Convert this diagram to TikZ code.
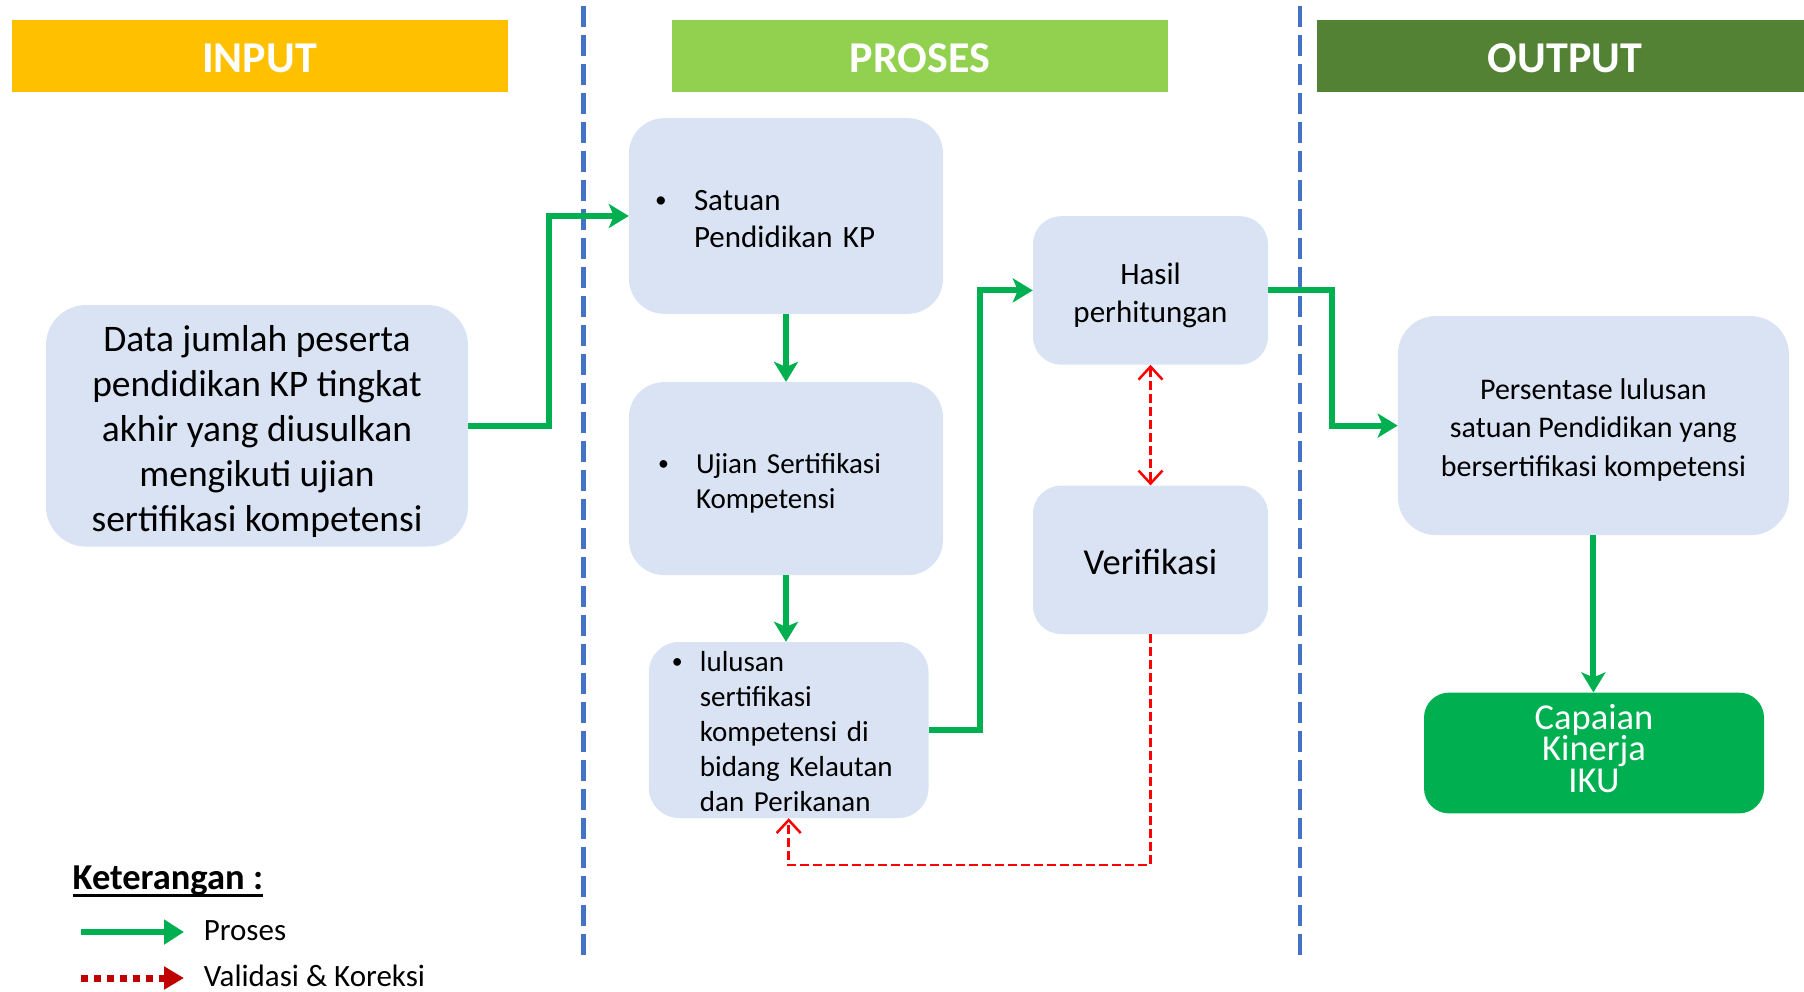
\documentclass[tikz,border=0pt]{standalone}
\usepackage{fontspec}
\setmainfont{Carlito}
\usetikzlibrary{arrows.meta}
\definecolor{inyellow}{HTML}{FFC000}
\definecolor{prgreen}{HTML}{92D050}
\definecolor{outgreen}{HTML}{548235}
\definecolor{boxblue}{HTML}{DAE3F3}
\definecolor{sepblue}{HTML}{4472C4}
\definecolor{arrgreen}{HTML}{00B050}
\definecolor{vred}{HTML}{FF0000}
\definecolor{dred}{HTML}{C00000}
\newcommand\myfs[2]{\fontsize{#1}{#2}\selectfont}
\newcommand\uprule[1]{\rule{0pt}{#1}}
\newcommand\smbul[1]{\makebox[#1][l]{\raisebox{0.12em}{\scalebox{0.75}{•}}}}
\tikzset{
  hdr/.style={text=white, font=\myfs{44}{50}\bfseries, minimum height=72.5pt, minimum width=496pt, inner sep=0pt},
  box/.style={fill=boxblue, inner sep=0pt, text=black},
  sep/.style={draw=sepblue, line width=4.5pt, dash pattern=on 21pt off 8pt},
  garrow/.style={draw=arrgreen, line width=6pt, -{Stealth[length=20pt,width=24pt,inset=5pt]}},
  rarrow/.style={draw=vred, line width=2.5pt, dash pattern=on 9pt off 4pt, -{Straight Barb[length=13pt,width=24pt]}},
  rdarrow/.style={draw=vred, line width=2.5pt, dash pattern=on 9pt off 4pt, {Straight Barb[length=13pt,width=24pt]}-{Straight Barb[length=13pt,width=24pt]}},
}
\begin{document}
\begin{tikzpicture}[x=1pt,y=-1pt]
\useasboundingbox (0,0) rectangle (1804,991);
% headers
\node[hdr, fill=inyellow] (hin) at (259.5,55.8) {\uprule{34pt}INPUT};
\node[hdr, fill=prgreen] (hpr) at (920,55.8) {\uprule{34pt}PROSES};
\node[hdr, fill=outgreen] (hout) at (1565,55.8) {\uprule{34pt}OUTPUT};
% separators
\draw[sep] (583.3,5.8) -- (583.3,955);
\draw[sep] (1300,5.8) -- (1300,955);
% boxes
\node[box, rounded corners=40pt, minimum width=422pt, minimum height=241.5pt, align=center, font=\myfs{37.5}{45}] (data) at (257,425.8)
  {\uprule{37pt}Data jumlah peserta\\pendidikan KP tingkat\\akhir yang diusulkan\\mengikuti ujian\\sertifikasi kompetensi};
\node[box, rounded corners=35pt, minimum width=314pt, minimum height=195.6pt, text width=262pt, inner xsep=26pt, align=left, font=\myfs{31}{37}] (satuan) at (786,216)
  {\uprule{27pt}\smbul{39pt}Satuan\\\hspace*{39pt}Pendidikan KP};
\node[box, rounded corners=35pt, minimum width=314pt, minimum height=193pt, text width=256pt, inner xsep=29pt, align=left, font=\myfs{29}{34.5}] (ujian) at (786,478.6)
  {\uprule{29pt}\smbul{38pt}Ujian Sertifikasi\\\hspace*{38pt}Kompetensi};
\node[box, rounded corners=30pt, minimum width=279.6pt, minimum height=176pt, text width=233.6pt, inner xsep=23pt, align=left, font=\myfs{29}{35}] (lulusan) at (788.7,730)
  {\uprule{24pt}\smbul{28pt}lulusan\\\hspace*{28pt}sertifikasi\\\hspace*{28pt}kompetensi di\\\hspace*{28pt}bidang Kelautan\\\hspace*{28pt}dan Perikanan};
\node[box, rounded corners=28pt, minimum width=235pt, minimum height=148.4pt, align=center, font=\myfs{31}{38}] (hasil) at (1150.5,290.4)
  {\uprule{31.5pt}Hasil\\perhitungan};
\node[box, rounded corners=28pt, minimum width=235pt, minimum height=148.4pt, align=center, font=\myfs{36.5}{42}] (verif) at (1150.5,559.8)
  {\uprule{30.5pt}Verifikasi};
\node[box, rounded corners=38pt, minimum width=391pt, minimum height=219pt, align=center, font=\myfs{30}{38.5}] (persen) at (1593.4,425.6)
  {\uprule{29.6pt}Persentase lulusan\\satuan Pendidikan yang\\bersertifikasi kompetensi};
\node[fill=arrgreen, text=white, rounded corners=25pt, inner sep=0pt, minimum width=340pt, minimum height=120.8pt, align=center, font=\myfs{36.5}{31.6}] (capaian) at (1594,753)
  {Capaian\\Kinerja\\IKU\rule[-9.2pt]{0pt}{9.2pt}};
% green connectors
\draw[garrow] (data.east) -- (548.8,425.8) |- (satuan.west);
\draw[garrow] (satuan.south) -- (ujian.north);
\draw[garrow] (ujian.south) -- (ujian.south |- lulusan.north);
\draw[garrow] (lulusan.east) -- (980,730) |- (hasil.west);
\draw[garrow] (hasil.east) -- (1332,290.4) |- (persen.west);
\draw[garrow] (persen.south) -- (persen.south |- capaian.north);
% red connectors
\draw[rdarrow] (hasil.south) -- (verif.north);
\draw[rarrow] (verif.south) -- (1150.5,865) -| (lulusan.south);
% legend
\node[anchor=west, inner sep=0pt, font=\myfs{36.5}{40}\bfseries] (ket) at (72.5,880.5) {Keterangan :};
\draw[line width=2.5pt] ([yshift=-6pt]ket.base west) -- ([yshift=-6pt]ket.base east);
\coordinate (lg1a) at (80.5,932);
\coordinate (lg1b) at (184,932);
\coordinate (lg2a) at (80.5,978);
\coordinate (lg2b) at (184,978);
\draw[draw=arrgreen, line width=6pt, -{Triangle[length=20pt,width=24pt]}] (lg1a) -- (lg1b);
\draw[draw=dred, line width=7pt, dash pattern=on 7pt off 6pt, -{Triangle[length=20pt,width=22pt]}] (lg2a) -- (lg2b);
\node[anchor=west, inner sep=0pt, font=\myfs{31}{36}] (lproses) at (203.6,930.3) {Proses};
\node[anchor=west, inner sep=0pt, font=\myfs{31}{36}] (lvalid) at (203.6,975.5) {Validasi \& Koreksi};
\end{tikzpicture}
\end{document}
